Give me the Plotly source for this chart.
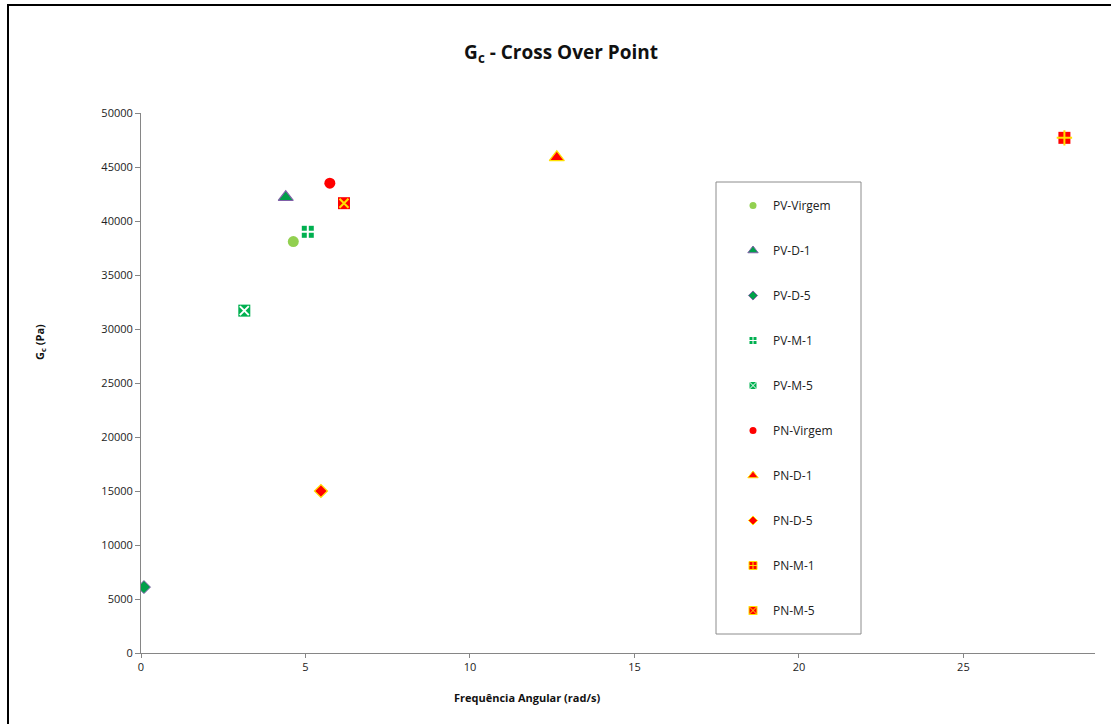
import plotly.graph_objects as go

# Cross-over point (G' = G'') for each sample
series_names = ["PV-Virgem", "PV-D-1", "PV-D-5", "PV-M-1", "PV-M-5",
                "PN-Virgem", "PN-D-1", "PN-D-5", "PN-M-1", "PN-M-5"]
freq_rad_s = [4.63, 4.40, 0.09, 5.07, 3.14, 5.74, 12.64, 5.47, 28.07, 6.17]
gc_pa = [38100, 42200, 6100, 39000, 31700, 43500, 45900, 15000, 47700, 41650]

x_ticks = [0, 5, 10, 15, 20, 25]
y_ticks = list(range(0, 50001, 5000))

# marker appearance per series:
# symbol, fill, outline colour, outline width, size, inner mark (for squares)
styles = [
    ("circle", "#92D050", "#92D050", 0, 11, None),
    ("triangle-up", "#00A04A", "#8060A8", 1.2, 13, None),
    ("diamond", "#00A04A", "#8060A8", 1.0, 10, None),
    ("square", "#00B050", "#FFFFFF", 0, 12, "cross-thin"),
    ("square", "#00B050", "#FFFFFF", 0, 12, "x-thin"),
    ("circle", "#FF0000", "#FF0000", 0, 11, None),
    ("triangle-up", "#FF0000", "#FFE000", 1.3, 13, None),
    ("diamond", "#FF0000", "#FFE000", 1.2, 10, None),
    ("square", "#FF0000", "#FFE000", 0, 12, "cross-thin"),
    ("square", "#FF0000", "#FFE000", 0, 12, "x-thin"),
]

fig = go.Figure()
for i, name in enumerate(series_names):
    sym, fill, edge, lw, size, inner = styles[i]
    # the data point itself
    fig.add_trace(go.Scatter(
        x=[freq_rad_s[i]], y=[gc_pa[i]], mode="markers", name=name,
        legendgroup=name, showlegend=False,
        marker=dict(symbol=sym, color=fill, size=size,
                    line=dict(color=edge, width=lw)),
    ))
    if inner:
        # cross / x drawn over the square
        fig.add_trace(go.Scatter(
            x=[freq_rad_s[i]], y=[gc_pa[i]], mode="markers", name=name,
            legendgroup=name, showlegend=False,
            marker=dict(symbol=inner, color=edge,
                        size=size - 1 if inner == "cross-thin" else size - 3,
                        line=dict(color=edge, width=2)),
        ))
    # legend key with a smaller symbol
    key_sym = sym if not inner else ("square-cross" if inner == "cross-thin" else "square-x")
    fig.add_trace(go.Scatter(
        x=[None], y=[None], mode="markers", name=name,
        legendgroup=name, showlegend=True,
        marker=dict(symbol=key_sym, color=fill, size=max(size - 4, 7),
                    line=dict(color=edge, width=1.0 if (inner or lw) else 0)),
    ))

font_family = "Open Sans, Noto Sans, sans-serif"
L, R, T, B = 141, 16, 113, 71
W, H = 1111, 724
pw, ph = W - L - R, H - T - B


def px_x(p):
    return (p - L) / pw


def px_y(p):
    return (H - B - p) / ph


fig.update_layout(
    width=W, height=H,
    margin=dict(l=L, r=R, t=T, b=B),
    paper_bgcolor="white", plot_bgcolor="white",
    font=dict(family=font_family, size=11, color="#222222"),
    title=dict(text="<b>G<sub>c</sub> - Cross Over Point</b>",
               x=0.505, xref="container",
               xanchor="center", y=1 - 52 / H, yanchor="middle",
               font=dict(family=font_family, size=19, color="#111111")),
    showlegend=True,
    legend=dict(x=px_x(733), y=px_y(191), xanchor="left", yanchor="top",
                bgcolor="rgba(0,0,0,0)", borderwidth=0,
                font=dict(family=font_family, size=12, color="#222222"),
                tracegroupgap=26, itemwidth=30),
    xaxis=dict(range=[0, 29], tickvals=x_ticks, showgrid=False, zeroline=False,
               showline=True, linecolor="#868686", linewidth=1,
               ticks="outside", ticklen=4, tickcolor="#868686",
               tickfont=dict(size=11)),
    yaxis=dict(range=[0, 50000], tickvals=y_ticks, tickformat="d",
               showgrid=False, zeroline=False,
               showline=True, linecolor="#868686", linewidth=1,
               ticks="outside", ticklen=5, tickcolor="#868686",
               tickfont=dict(size=11)),
    shapes=[
        # outer chart frame (top and left edges visible)
        dict(type="rect", xref="paper", yref="paper",
             x0=px_x(8), x1=px_x(1120), y0=px_y(740), y1=px_y(5),
             line=dict(color="black", width=2), fillcolor="rgba(0,0,0,0)",
             layer="below"),
        # legend box
        dict(type="rect", xref="paper", yref="paper",
             x0=px_x(716), x1=px_x(861), y0=px_y(634), y1=px_y(182),
             line=dict(color="#8C8C8C", width=1), fillcolor="white",
             layer="below"),
    ],
    annotations=[
        dict(text="<b>Frequência Angular (rad/s)</b>", xref="paper", yref="paper",
             x=px_x(527), y=px_y(697), showarrow=False,
             xanchor="center", yanchor="middle",
             font=dict(family=font_family, size=11, color="#111111")),
        dict(text="<b>G<sub>c</sub> (Pa)</b>", xref="paper", yref="paper",
             x=px_x(40), y=px_y(342), showarrow=False, textangle=-90,
             xanchor="center", yanchor="middle",
             font=dict(family=font_family, size=11, color="#111111")),
    ],
)

fig.write_html("out.html")
